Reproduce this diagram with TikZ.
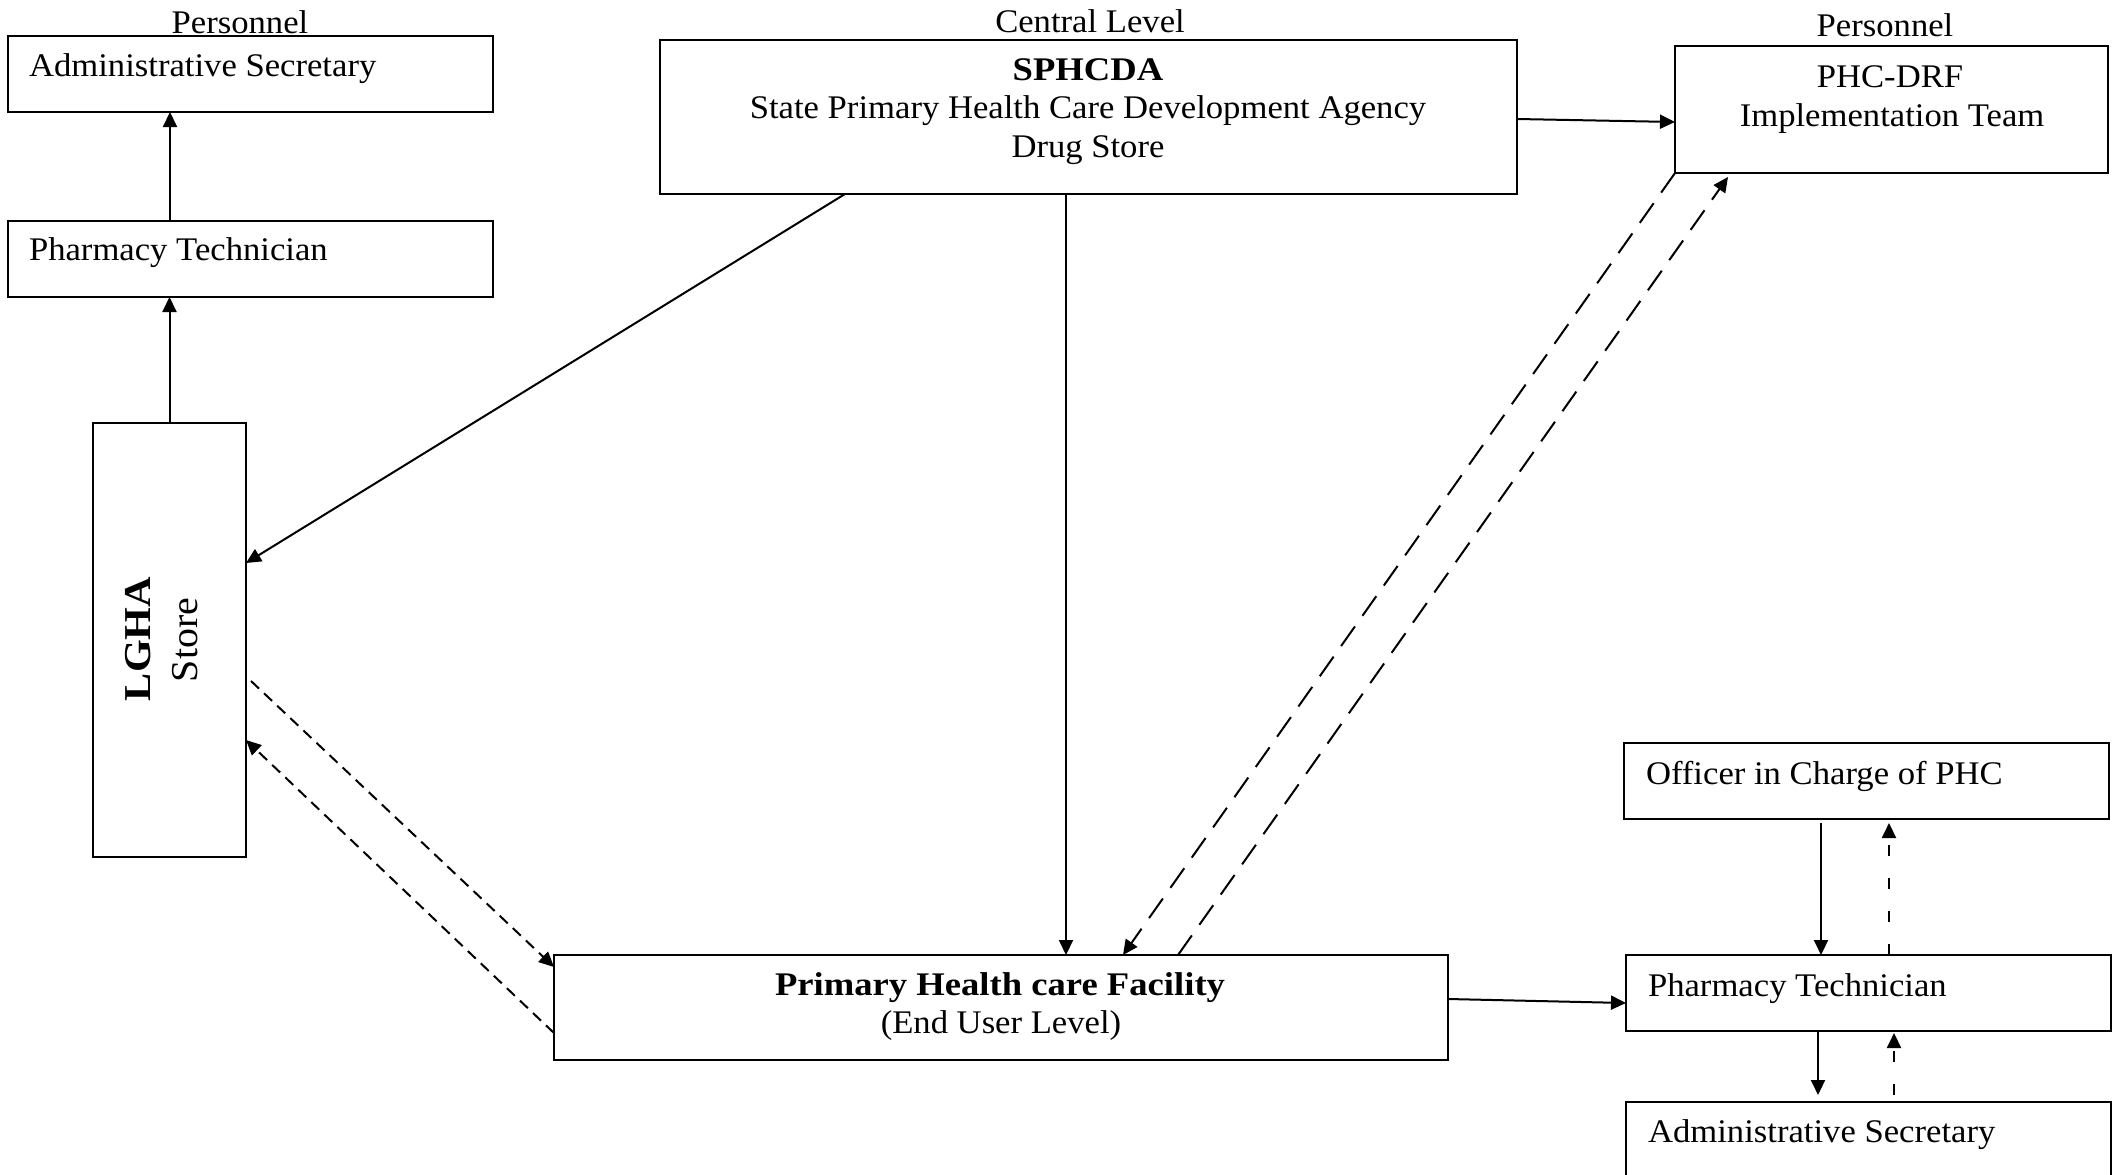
\documentclass[tikz,border=0pt]{standalone}
\usepackage{fontspec}
\setmainfont{Liberation Serif}[FakeStretch=1.05, BoldFeatures={FakeStretch=1.11}]
\usetikzlibrary{arrows.meta,calc}

\begin{document}
\begin{tikzpicture}[x=1pt,y=-1pt,
  box/.style={draw, line width=2.6pt, inner sep=0pt, outer sep=0pt},
  txt/.style={inner sep=0pt, outer sep=0pt, font=\fontsize{33}{40}\selectfont},
  bigtxt/.style={inner sep=0pt, outer sep=0pt, font=\fontsize{38}{46}\selectfont},
  flow/.style={line width=2pt, -{Triangle[length=15pt,width=14pt]}},
  feedshort/.style={flow, dash pattern=on 11pt off 7pt},
  feedlong/.style={flow, dash pattern=on 24pt off 13pt},
  feedvert/.style={flow, dash pattern=on 11pt off 22pt}]

% canvas
\useasboundingbox (0,0) rectangle (2120,1175);
\fill[white] (0,0) rectangle (2120,1175);
\clip (0,0) rectangle (2120,1175);

% ---------- boxes ----------
\node[box, minimum width=485pt, minimum height=76pt]  (adm1) at (250.5,74) {};
\node[box, minimum width=485pt, minimum height=76pt]  (pt1)  at (250.5,259) {};
\node[box, minimum width=153pt, minimum height=434pt] (lgha) at (169.5,640) {};
\node[box, minimum width=857pt, minimum height=154pt] (sph)  at (1088.5,117) {};
\node[box, minimum width=433pt, minimum height=127pt] (drf)  at (1891.5,109.5) {};
\node[box, minimum width=894pt, minimum height=105pt] (phc)  at (1001,1007.5) {};
\node[box, minimum width=485pt, minimum height=76pt]  (off)  at (1866.5,781) {};
\node[box, minimum width=485pt, minimum height=76pt]  (pt2)  at (1868.5,993) {};
\node[box, minimum width=485pt, minimum height=76pt]  (adm2) at (1868.5,1140) {};

% ---------- headings ----------
\node[txt, anchor=base] (perL) at (240,33)  {Personnel};
\node[txt, anchor=base] (cent) at (1090,32) {Central Level};
\node[txt, anchor=base] (perR) at (1885,36) {Personnel};

% ---------- box texts ----------
\node[txt, anchor=base west] (adm1t) at (29,76)  {Administrative Secretary};
\node[txt, anchor=base west] (pt1t)  at (29,260) {Pharmacy Technician};

\node[bigtxt, anchor=base, rotate=90] (lghat)  at (150,639) {\textbf{LGHA}};
\node[bigtxt, anchor=base, rotate=90] (storet) at (197,640) {Store};

\node[txt, anchor=base] (spht1) at (1088,80)  {\textbf{SPHCDA}};
\node[txt, anchor=base] (spht2) at (1088,118) {State Primary Health Care Development Agency};
\node[txt, anchor=base] (spht3) at (1088,157) {Drug Store};

\node[txt, anchor=base] (drft1) at (1890,87)  {PHC-DRF};
\node[txt, anchor=base] (drft2) at (1892,126) {Implementation Team};

\node[txt, anchor=base] (phct1) at (1000,995)  {\bfseries\addfontfeature{FakeStretch=1.15}Primary Health care Facility};
\node[txt, anchor=base] (phct2) at (1001,1033) {(End User Level)};

\node[txt, anchor=base west] (offt)  at (1646,784)  {Officer in Charge of PHC};
\node[txt, anchor=base west] (pt2t)  at (1648,996)  {Pharmacy Technician};
\node[txt, anchor=base west] (adm2t) at (1648,1142) {Administrative Secretary};

% ---------- attachment points ----------
\coordinate (pt1up)   at ($(pt1.north west)+(162,0)$);
\coordinate (adm1dn)  at ($(adm1.south west)+(162,0)$);
\coordinate (sphA)    at ($(sph.south west)+(185,0)$);
\coordinate (sphB)    at ($(sph.south west)+(406,0)$);
\coordinate (sphC)    at ($(sph.north east)+(0,79)$);
\coordinate (drfIn)   at ($(drf.north west)+(0,76)$);
\coordinate (lghaIn)  at ($(lgha.north east)+(0,140)$);
\coordinate (lghaOut) at ($(lgha.north east)+(5,258)$);
\coordinate (lghaRet) at ($(lgha.north east)+(0,317)$);
\coordinate (phcIn)   at ($(phc.north west)+(0,12)$);
\coordinate (phcOut)  at ($(phc.north west)+(0,78)$);
\coordinate (phcTopA) at ($(phc.north west)+(569,0)$);
\coordinate (phcTopB) at ($(phc.north west)+(624,0)$);
\coordinate (drfOut)  at (drf.south west);
\coordinate (drfIn2)  at ($(drf.south west)+(53,4)$);
\coordinate (phcR)    at ($(phc.north east)+(0,44)$);
\coordinate (pt2L)    at ($(pt2.north west)+(0,48)$);
\coordinate (offDn)   at ($(off.south west)+(197,4)$);
\coordinate (offUp)   at ($(off.south west)+(265,4)$);
\coordinate (pt2TopB) at ($(pt2.north west)+(263,0)$);
\coordinate (pt2BotA) at ($(pt2.south west)+(192,0)$);
\coordinate (pt2BotB) at ($(pt2.south west)+(268,2)$);
\coordinate (adm2A)   at ($(adm2.north west)+(192,-7)$);
\coordinate (adm2B)   at ($(adm2.north west)+(268,-7)$);

% ---------- connectors ----------
\draw[flow] (pt1up) -- (adm1dn);
\draw[flow] (lgha.north) -- (lgha.north |- pt1.south);
\draw[flow] (sphA) -- (lghaIn);
\draw[flow] (sphB) -- (sphB |- phc.north);
\draw[flow] (sphC) -- (drfIn);

\draw[feedshort] (lghaOut) -- (phcIn);
\draw[feedshort] (phcOut) -- (lghaRet);

\draw[feedlong] (drfOut) -- (phcTopA);
\draw[feedlong] (phcTopB) -- (drfIn2);

\draw[flow] (phcR) -- (pt2L);
\draw[flow] (offDn) -- (offDn |- pt2.north);
\draw[feedvert] (pt2TopB) -- (offUp);
\draw[flow] (pt2BotA) -- (adm2A);
\draw[feedvert] (adm2B) -- (pt2BotB);
\end{tikzpicture}
\end{document}
